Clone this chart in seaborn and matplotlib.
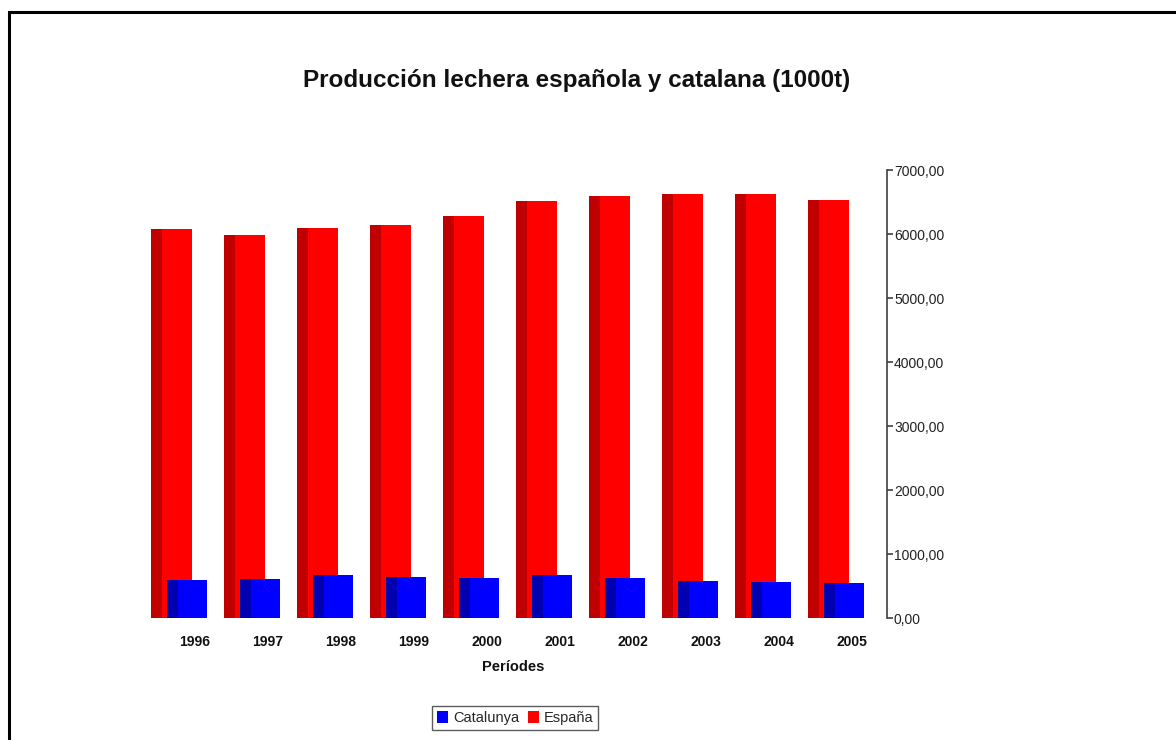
import matplotlib
matplotlib.use("Agg")
import matplotlib.pyplot as plt
from matplotlib.patches import Rectangle, Patch
from matplotlib.ticker import FuncFormatter
import numpy as np
import seaborn as sns

years = [1996, 1997, 1998, 1999, 2000, 2001, 2002, 2003, 2004, 2005]
espana = [6078, 5984, 6094, 6141, 6281, 6516, 6594, 6625, 6625, 6531]
catalunya = [594, 609, 672, 641, 625, 672, 625, 578, 563, 547]
yticks = [0, 1000, 2000, 3000, 4000, 5000, 6000, 7000]

sns.set_theme(style="white")
plt.rcParams['font.family'] = ['Liberation Sans', 'DejaVu Sans']

W, H = 1176, 740
fig = plt.figure(figsize=(W / 100, H / 100), dpi=100)
fig.patch.set_facecolor("white")

# axes in pixel geometry
x0, x1 = 140, 887
ytop, ybot = 170, 618
ax = fig.add_axes([x0 / W, (H - ybot) / H, (x1 - x0) / W, (ybot - ytop) / H])
ax.set_facecolor("white")

px = 73.0  # pixels per category
yrs = np.array(years, dtype=float)

RED, DRED = "#FF0000", "#C00000"
BLUE, DBLUE = "#0000FF", "#0000B0"

def bars(xoff_px, width_px, vals, color):
    sns.barplot(x=yrs + xoff_px / px, y=vals, native_scale=True,
                width=width_px / px, color=color, saturation=1,
                errorbar=None, linewidth=0, ax=ax)

# red (España) - side then front
bars(-20.5, 11, espana, DRED)
bars(0, 30, espana, RED)
# blue (Catalunya) - side then front
bars(-4.5, 11, catalunya, DBLUE)
bars(15.5, 29, catalunya, BLUE)

ax.set_xlim(1996 + (x0 - 177) / px, 1996 + (x1 - 177) / px)
ax.set_ylim(0, 7000)

for s in ["left", "top", "bottom"]:
    ax.spines[s].set_visible(False)
ax.spines["right"].set_visible(True)
ax.spines["right"].set_color("#404040")
ax.spines["right"].set_linewidth(1.2)

ax.yaxis.tick_right()
ax.set_yticks(yticks)
ax.yaxis.set_major_formatter(FuncFormatter(lambda v, p: f"{v:.2f}".replace(".", ",")))
ax.tick_params(axis="y", which="major", direction="out", length=4, width=1.2,
               color="#404040", labelsize=10, labelcolor="#222222", pad=1, right=True)

ax.set_xticks(yrs + 18 / px)
ax.set_xticklabels([str(y) for y in years], fontweight="bold", fontsize=10, color="#111111")
ax.tick_params(axis="x", length=0, pad=12)
ax.set_xlabel("Períodes", fontsize=10.5, fontweight="bold", color="#111111", labelpad=8)
ax.set_ylabel("")
ax.grid(False)

fig.text(577 / W, 1 - 80 / H, "Producción lechera española y catalana (1000t)",
         ha="center", va="center", fontsize=17.5, fontweight="bold", color="#111111")

handles = [Patch(facecolor=BLUE, edgecolor="none", label="Catalunya"),
           Patch(facecolor=RED, edgecolor="none", label="España")]
leg = fig.legend(handles=handles, loc="center", bbox_to_anchor=(515 / W, 1 - 718 / H),
                 ncol=2, frameon=True, fancybox=False, fontsize=10.5,
                 handlelength=0.8, handleheight=0.8, handletextpad=0.3,
                 columnspacing=0.6, borderpad=0.35, borderaxespad=0)
leg.get_frame().set_edgecolor("#333333")
leg.get_frame().set_linewidth(1.0)

# outer border (extends beyond right/bottom edges)
fig.patches.append(Rectangle((8.5 / W, -0.1), 1.2, 1 - 11.5 / H + 0.1,
                             transform=fig.transFigure, fill=False,
                             edgecolor="black", linewidth=2.2))

fig.savefig("out.png", dpi=100, facecolor="white")
